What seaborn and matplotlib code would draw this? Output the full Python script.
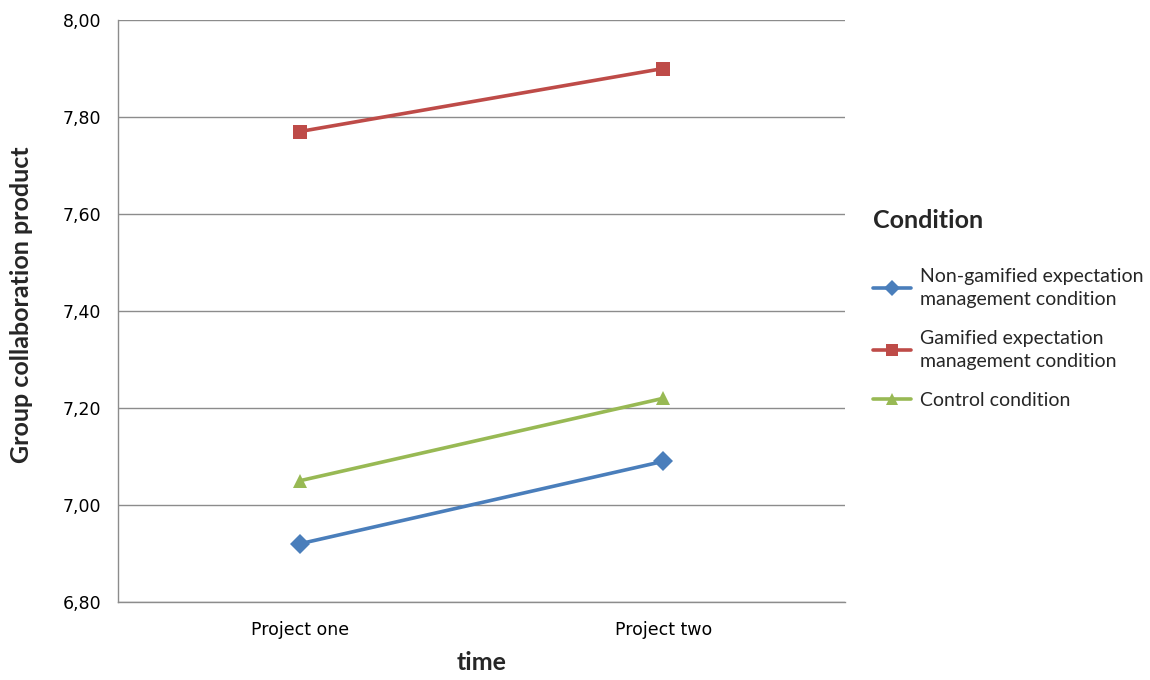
import matplotlib
matplotlib.use("Agg")
import matplotlib.pyplot as plt
import seaborn as sns
import pandas as pd
from matplotlib.ticker import FuncFormatter, MultipleLocator
from matplotlib.lines import Line2D

times = ["Project one", "Project two"]
conditions = ["Non-gamified expectation\nmanagement condition",
              "Gamified expectation\nmanagement condition",
              "Control condition"]
non_gamified = [6.92, 7.09]
gamified = [7.77, 7.90]
control = [7.05, 7.22]

rows = []
for cond, vals in zip(conditions, [non_gamified, gamified, control]):
    for t, v in zip(times, vals):
        rows.append({"time": t, "value": v, "Condition": cond})
df = pd.DataFrame(rows)

sns.set_theme(style="white")
plt.rcParams['font.family'] = ['Lato', 'DejaVu Sans']

colors = ["#4A7EBB", "#BE4B48", "#98B954"]
markers = {conditions[0]: "D", conditions[1]: "s", conditions[2]: "^"}

fig = plt.figure(figsize=(11.5, 6.8), dpi=100)
ax = fig.add_axes([118/1150, 1-602/680, (845-118)/1150, (602-20)/680])

sns.lineplot(data=df, x="time", y="value", hue="Condition", style="Condition",
             palette=colors, markers=markers, dashes=False, markersize=10,
             markeredgewidth=0, linewidth=2.6, ax=ax, legend=False, sort=False)

ax.set_xlim(-0.5, 1.5)
ax.set_ylim(6.80, 8.00)
ax.yaxis.set_major_locator(MultipleLocator(0.2))
ax.yaxis.set_major_formatter(FuncFormatter(lambda v, p: f"{v:.2f}".replace(".", ",")))
ax.grid(axis="y", color="#8c8c8c", linewidth=1)
ax.set_axisbelow(True)
for s in ["top", "right"]:
    ax.spines[s].set_visible(False)
for s in ["left", "bottom"]:
    ax.spines[s].set_color("#8c8c8c")
    ax.spines[s].set_linewidth(1)

ax.tick_params(axis="both", labelfontfamily="DejaVu Sans", labelsize=12.5,
               labelcolor="#000000", length=0)
ax.tick_params(axis="y", pad=12)
ax.tick_params(axis="x", pad=14)

ax.set_xlabel("time", fontsize=18, fontweight="bold", labelpad=8)
ax.set_ylabel("Group collaboration product", fontsize=18, fontweight="bold")
ax.yaxis.set_label_coords(-0.117, 0.51)

handles = [Line2D([], [], color=c, marker=markers[cond], markersize=8, markeredgewidth=0,
                  linewidth=2.6) for c, cond in zip(colors, conditions)]
leg = ax.legend(handles, conditions, title="Condition", loc="upper left",
                bbox_to_anchor=(855/1150, 1-191/680), bbox_transform=fig.transFigure,
                frameon=False, fontsize=14, handlelength=2.0, handletextpad=0.45,
                labelspacing=1.12)
for t in leg.get_texts():
    t.set_linespacing(1.45)
leg.get_title().set_fontsize(18)
leg.get_title().set_fontweight("bold")
leg._legend_box.align = "left"
leg._legend_box.sep = 26

fig.savefig("out.png", dpi=100)
